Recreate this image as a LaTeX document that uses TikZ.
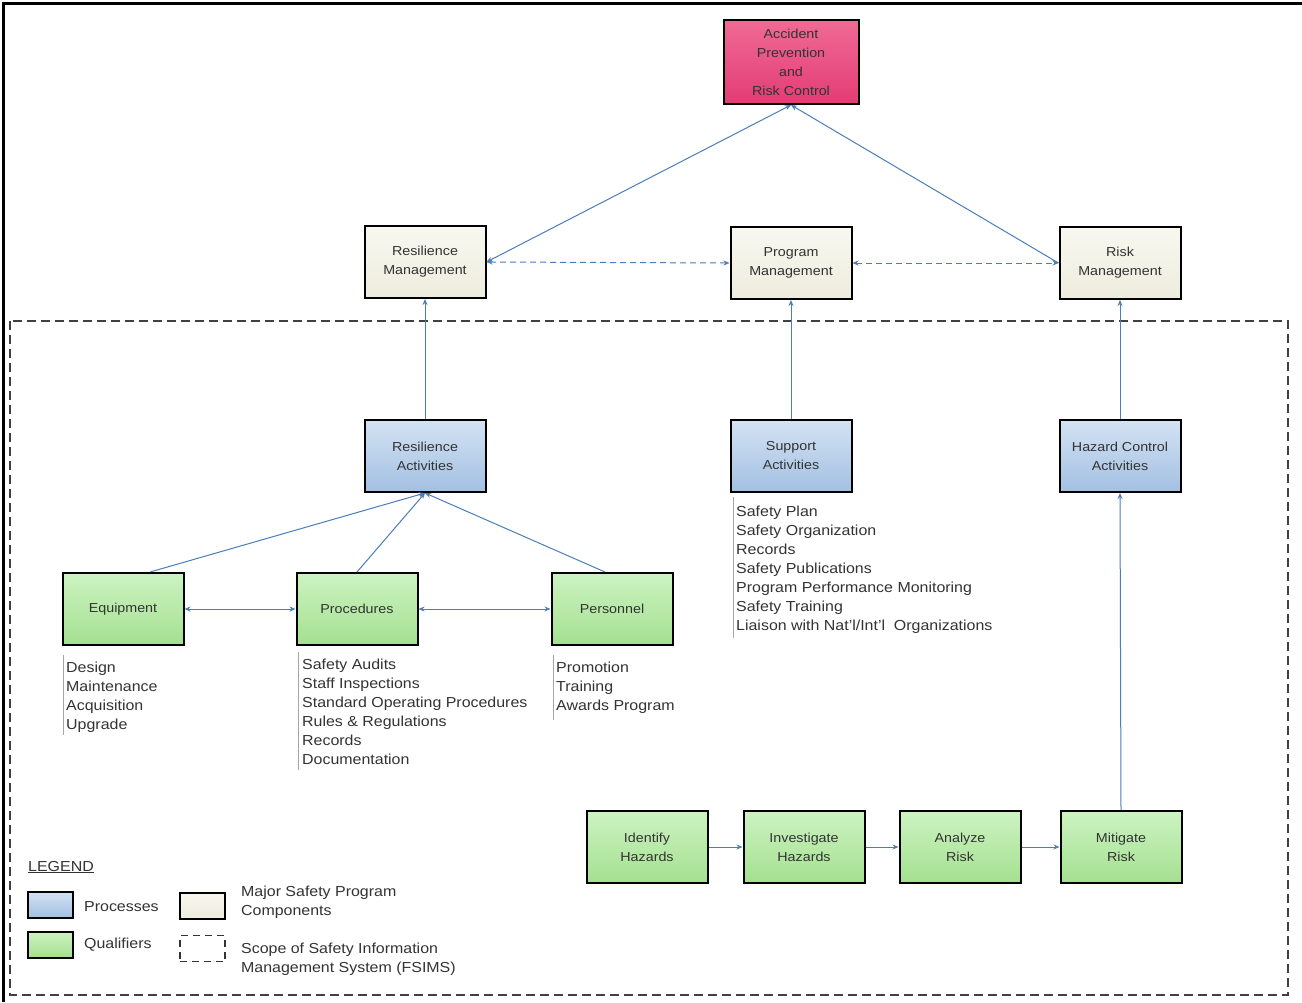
\documentclass[tikz,border=0pt]{standalone}
\usepackage{fontspec}
\setmainfont[FakeStretch=1.1]{Liberation Sans}
\usetikzlibrary{arrows.meta}
\definecolor{linkc}{HTML}{4A7EBB}
\definecolor{txt}{HTML}{333333}
\definecolor{bluetop}{HTML}{D3E2F3}
\definecolor{bluebot}{HTML}{A3C0E2}
\definecolor{greentop}{HTML}{CDF3C2}
\definecolor{greenbot}{HTML}{A4E090}
\definecolor{creamtop}{HTML}{F8F8F0}
\definecolor{creambot}{HTML}{EDECDD}
\definecolor{pinktop}{HTML}{F06A96}
\definecolor{pinkbot}{HTML}{E33C74}
\tikzset{
  box/.style={draw=black, line width=2pt, minimum width=121pt, minimum height=72pt, inner sep=2pt,
    align=center, text=txt, font=\fontsize{13}{19}\selectfont},
  compbox/.style={box, top color=creamtop, bottom color=creambot},
  procbox/.style={box, top color=bluetop, bottom color=bluebot},
  qualbox/.style={box, top color=greentop, bottom color=greenbot},
  topbox/.style={box, minimum width=135pt, minimum height=84pt, top color=pinktop, bottom color=pinkbot},
  link/.style={draw=linkc, line width=1pt, -{Stealth[length=6pt,width=5pt]}},
  dlink/.style={link, {Stealth[length=6pt,width=5pt]}-{Stealth[length=6pt,width=5pt]}},
  ddlink/.style={dlink, dash pattern=on 6pt off 4pt},
  listtxt/.style={anchor=north west, align=left, text=txt, font=\fontsize{14.5}{19}\selectfont, inner sep=0pt},
  listbar/.style={draw=gray!70, line width=0.8pt},
  legbox/.style={draw=black, line width=2pt, minimum width=45pt, minimum height=26pt, inner sep=0pt},
  legtxt/.style={anchor=west, align=left, text=txt, font=\fontsize{14.5}{19}\selectfont, inner sep=0pt}
}
\begin{document}
\begin{tikzpicture}[x=1pt,y=-1pt]
\useasboundingbox (0,0) rectangle (1302,1002);
\fill[white] (0,0) rectangle (1302,1002);
\draw[black, line width=3pt] (3,1002) -- (3,3) -- (1302,3);
% scope
\draw[black!75, line width=1.5pt, dash pattern=on 9pt off 5pt] (10,321) rectangle (1288,995);

% top
\node[topbox] (apc) at (791,62) {Accident\\Prevention\\and\\Risk Control};
% components
\node[compbox] (rm) at (425,262) {Resilience\\Management};
\node[compbox] (pm) at (791,263) {Program\\Management};
\node[compbox] (rk) at (1120,263) {Risk\\Management};
% processes
\node[procbox] (ra) at (425,456) {Resilience\\Activities};
\node[procbox] (sa) at (791,456) {Support\\Activities};
\node[procbox] (hc) at (1120,456) {Hazard Control\\Activities};
% qualifiers
\node[qualbox] (eq) at (123,609) {Equipment};
\node[qualbox] (pr) at (357,609) {Procedures};
\node[qualbox] (pe) at (612,609) {Personnel};
\node[qualbox] (ih) at (647,847) {Identify\\Hazards};
\node[qualbox] (vh) at (804,847) {Investigate\\Hazards};
\node[qualbox] (ar) at (960,847) {Analyze\\Risk};
\node[qualbox] (mr) at (1121,847) {Mitigate\\Risk};

% connectors
\draw[dlink] (rm.east) -- (apc.south);
\draw[link] (rk.west) -- (apc.south);
\draw[ddlink] (rm.east) -- (pm.west);
\draw[ddlink] (pm.east) -- (rk.west);
\draw[link] (ra.north) -- (rm.south);
\draw[link] (sa.north) -- (pm.south);
\draw[link] (hc.north) -- (rk.south);
\draw[link] ([xshift=27pt]eq.north) -- (ra.south);
\draw[link] (pr.north) -- (ra.south);
\draw[link] ([xshift=-7pt]pe.north) -- (ra.south);
\draw[dlink] (eq.east) -- (pr.west);
\draw[dlink] (pr.east) -- (pe.west);
\draw[link] (ih.east) -- (vh.west);
\draw[link] (vh.east) -- (ar.west);
\draw[link] (ar.east) -- (mr.west);
\draw[link] (mr.north) -- (hc.south);

% lists
\coordinate (eqb1) at (63,655); \coordinate (eqb2) at (63,735);
\draw[listbar] (eqb1) -- (eqb2);
\node[listtxt] (eql) at (66,662) {Design\\Maintenance\\Acquisition\\Upgrade};
\coordinate (prb1) at (298,652); \coordinate (prb2) at (298,770);
\draw[listbar] (prb1) -- (prb2);
\node[listtxt] (prl) at (302,659) {Safety Audits\\Staff Inspections\\Standard Operating Procedures\\Rules \& Regulations\\Records\\Documentation};
\coordinate (peb1) at (553,655); \coordinate (peb2) at (553,720);
\draw[listbar] (peb1) -- (peb2);
\node[listtxt] (pel) at (556,662) {Promotion\\Training\\Awards Program};
\coordinate (sab1) at (733,497); \coordinate (sab2) at (733,638);
\draw[listbar] (sab1) -- (sab2);
\node[listtxt] (sal) at (736,506) {Safety Plan\\Safety Organization\\Records\\Safety Publications\\Program Performance Monitoring\\Safety Training\\Liaison with Nat'l/Int'l\ \ Organizations};

% legend
\node[legtxt] (leg) at (28,867) {\underline{LEGEND}};
\node[legbox, top color=bluetop, bottom color=bluebot] (lp) at (50.5,904.5) {};
\node[legtxt] (lpt) at (84,907) {Processes};
\node[legbox, top color=greentop, bottom color=greenbot] (lq) at (50.5,944.5) {};
\node[legtxt] (lqt) at (84,945) {Qualifiers};
\node[legbox, top color=creamtop, bottom color=creambot] (lm) at (202.5,905.5) {};
\node[legtxt] (lmt) at (241,902) {Major Safety Program\\Components};
\node[legbox, draw=black!80, line width=1.2pt, dash pattern=on 7pt off 5pt] (ls) at (202.5,948.5) {};
\node[legtxt] (lst) at (241,959) {Scope of Safety Information\\Management System (FSIMS)};
\end{tikzpicture}
\end{document}
